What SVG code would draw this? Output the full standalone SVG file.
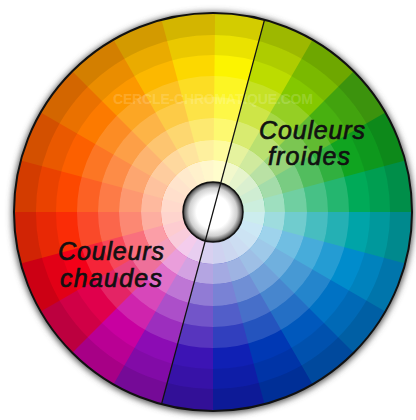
<svg xmlns="http://www.w3.org/2000/svg" xmlns:xlink="http://www.w3.org/1999/xlink" width="416" height="420" viewBox="0 0 416 420">
<defs>
<path id="w" d="M213 212 L213 13 A199 199 0 0 1 266.51 20.33 Z"/>
<filter id="blur" x="-20%" y="-20%" width="140%" height="140%"><feGaussianBlur stdDeviation="3"/></filter>
<radialGradient id="hole" cx="0.5" cy="0.5" r="0.5">
<stop offset="0.55" stop-color="#ffffff"/>
<stop offset="0.8" stop-color="#d0d0d0"/>
<stop offset="0.93" stop-color="#707070"/>
<stop offset="1" stop-color="#202020"/>
</radialGradient>
</defs>
<style>
.ring{fill:none;stroke:#fff}
.shade{fill:none;stroke:#000}
.lbl{font-family:"Liberation Sans","DejaVu Sans",sans-serif;font-style:italic;font-size:25px;fill:#111;stroke:#111;stroke-width:0.7}
.wm{font-family:"Liberation Sans",sans-serif;font-size:14px;fill:#fff;fill-opacity:0.18;font-weight:bold}
</style>
<rect width="416" height="420" fill="#ffffff"/>
<circle cx="213" cy="213" r="201" fill="#555" filter="url(#blur)"/>
<g id="wheel">
<use xlink:href="#w" fill="#fcf400"/>
<use xlink:href="#w" fill="#bcdc00" transform="rotate(15 213 212)"/>
<use xlink:href="#w" fill="#84c800" transform="rotate(30 213 212)"/>
<use xlink:href="#w" fill="#48b010" transform="rotate(45 213 212)"/>
<use xlink:href="#w" fill="#10a420" transform="rotate(60 213 212)"/>
<use xlink:href="#w" fill="#00aa58" transform="rotate(75 213 212)"/>
<use xlink:href="#w" fill="#00a4a8" transform="rotate(90 213 212)"/>
<use xlink:href="#w" fill="#008ccc" transform="rotate(105 213 212)"/>
<use xlink:href="#w" fill="#0072c4" transform="rotate(120 213 212)"/>
<use xlink:href="#w" fill="#0058bc" transform="rotate(135 213 212)"/>
<use xlink:href="#w" fill="#0038b4" transform="rotate(150 213 212)"/>
<use xlink:href="#w" fill="#1020b4" transform="rotate(165 213 212)"/>
<use xlink:href="#w" fill="#3c14b4" transform="rotate(180 213 212)"/>
<use xlink:href="#w" fill="#8c0cb4" transform="rotate(195 213 212)"/>
<use xlink:href="#w" fill="#c800a0" transform="rotate(210 213 212)"/>
<use xlink:href="#w" fill="#e0004c" transform="rotate(225 213 212)"/>
<use xlink:href="#w" fill="#f40018" transform="rotate(240 213 212)"/>
<use xlink:href="#w" fill="#fa2c06" transform="rotate(255 213 212)"/>
<use xlink:href="#w" fill="#fc4800" transform="rotate(270 213 212)"/>
<use xlink:href="#w" fill="#fc6000" transform="rotate(285 213 212)"/>
<use xlink:href="#w" fill="#fc7a00" transform="rotate(300 213 212)"/>
<use xlink:href="#w" fill="#fc9800" transform="rotate(315 213 212)"/>
<use xlink:href="#w" fill="#fcb800" transform="rotate(330 213 212)"/>
<use xlink:href="#w" fill="#fcd800" transform="rotate(345 213 212)"/>
<circle class="shade" cx="213" cy="212" r="188" stroke-width="22" stroke-opacity="0.16"/>
<circle class="shade" cx="213" cy="212" r="167" stroke-width="20" stroke-opacity="0.07"/>
<circle class="ring" cx="213" cy="212" r="125.5" stroke-width="21" stroke-opacity="0.14"/>
<circle class="ring" cx="213" cy="212" r="104.5" stroke-width="21" stroke-opacity="0.28"/>
<circle class="ring" cx="213" cy="212" r="83" stroke-width="22" stroke-opacity="0.44"/>
<circle class="ring" cx="213" cy="212" r="62" stroke-width="20" stroke-opacity="0.62"/>
<circle class="ring" cx="213" cy="212" r="41" stroke-width="22" stroke-opacity="0.8"/>
<circle cx="213" cy="212" r="199" fill="none" stroke="#111" stroke-width="2"/>
</g>
<text class="wm" x="213" y="104" text-anchor="middle" textLength="200">CERCLE-CHROMATIQUE.COM</text>
<g id="hole-center">
<circle cx="213" cy="212" r="30" fill="url(#hole)" stroke="#111" stroke-width="1.5"/>
</g>
<g id="connectors">
<line x1="264.5" y1="19.8" x2="161.5" y2="404.2" stroke="#111" stroke-width="1.3"/>
</g>
<g id="froides">
<text class="lbl" x="312" y="139" text-anchor="middle" textLength="106">Couleurs</text>
<text class="lbl" x="309" y="165" text-anchor="middle" textLength="82">froides</text>
</g>
<g id="chaudes">
<text class="lbl" x="111" y="260" text-anchor="middle" textLength="106">Couleurs</text>
<text class="lbl" x="111" y="287" text-anchor="middle" textLength="102">chaudes</text>
</g>
</svg>
